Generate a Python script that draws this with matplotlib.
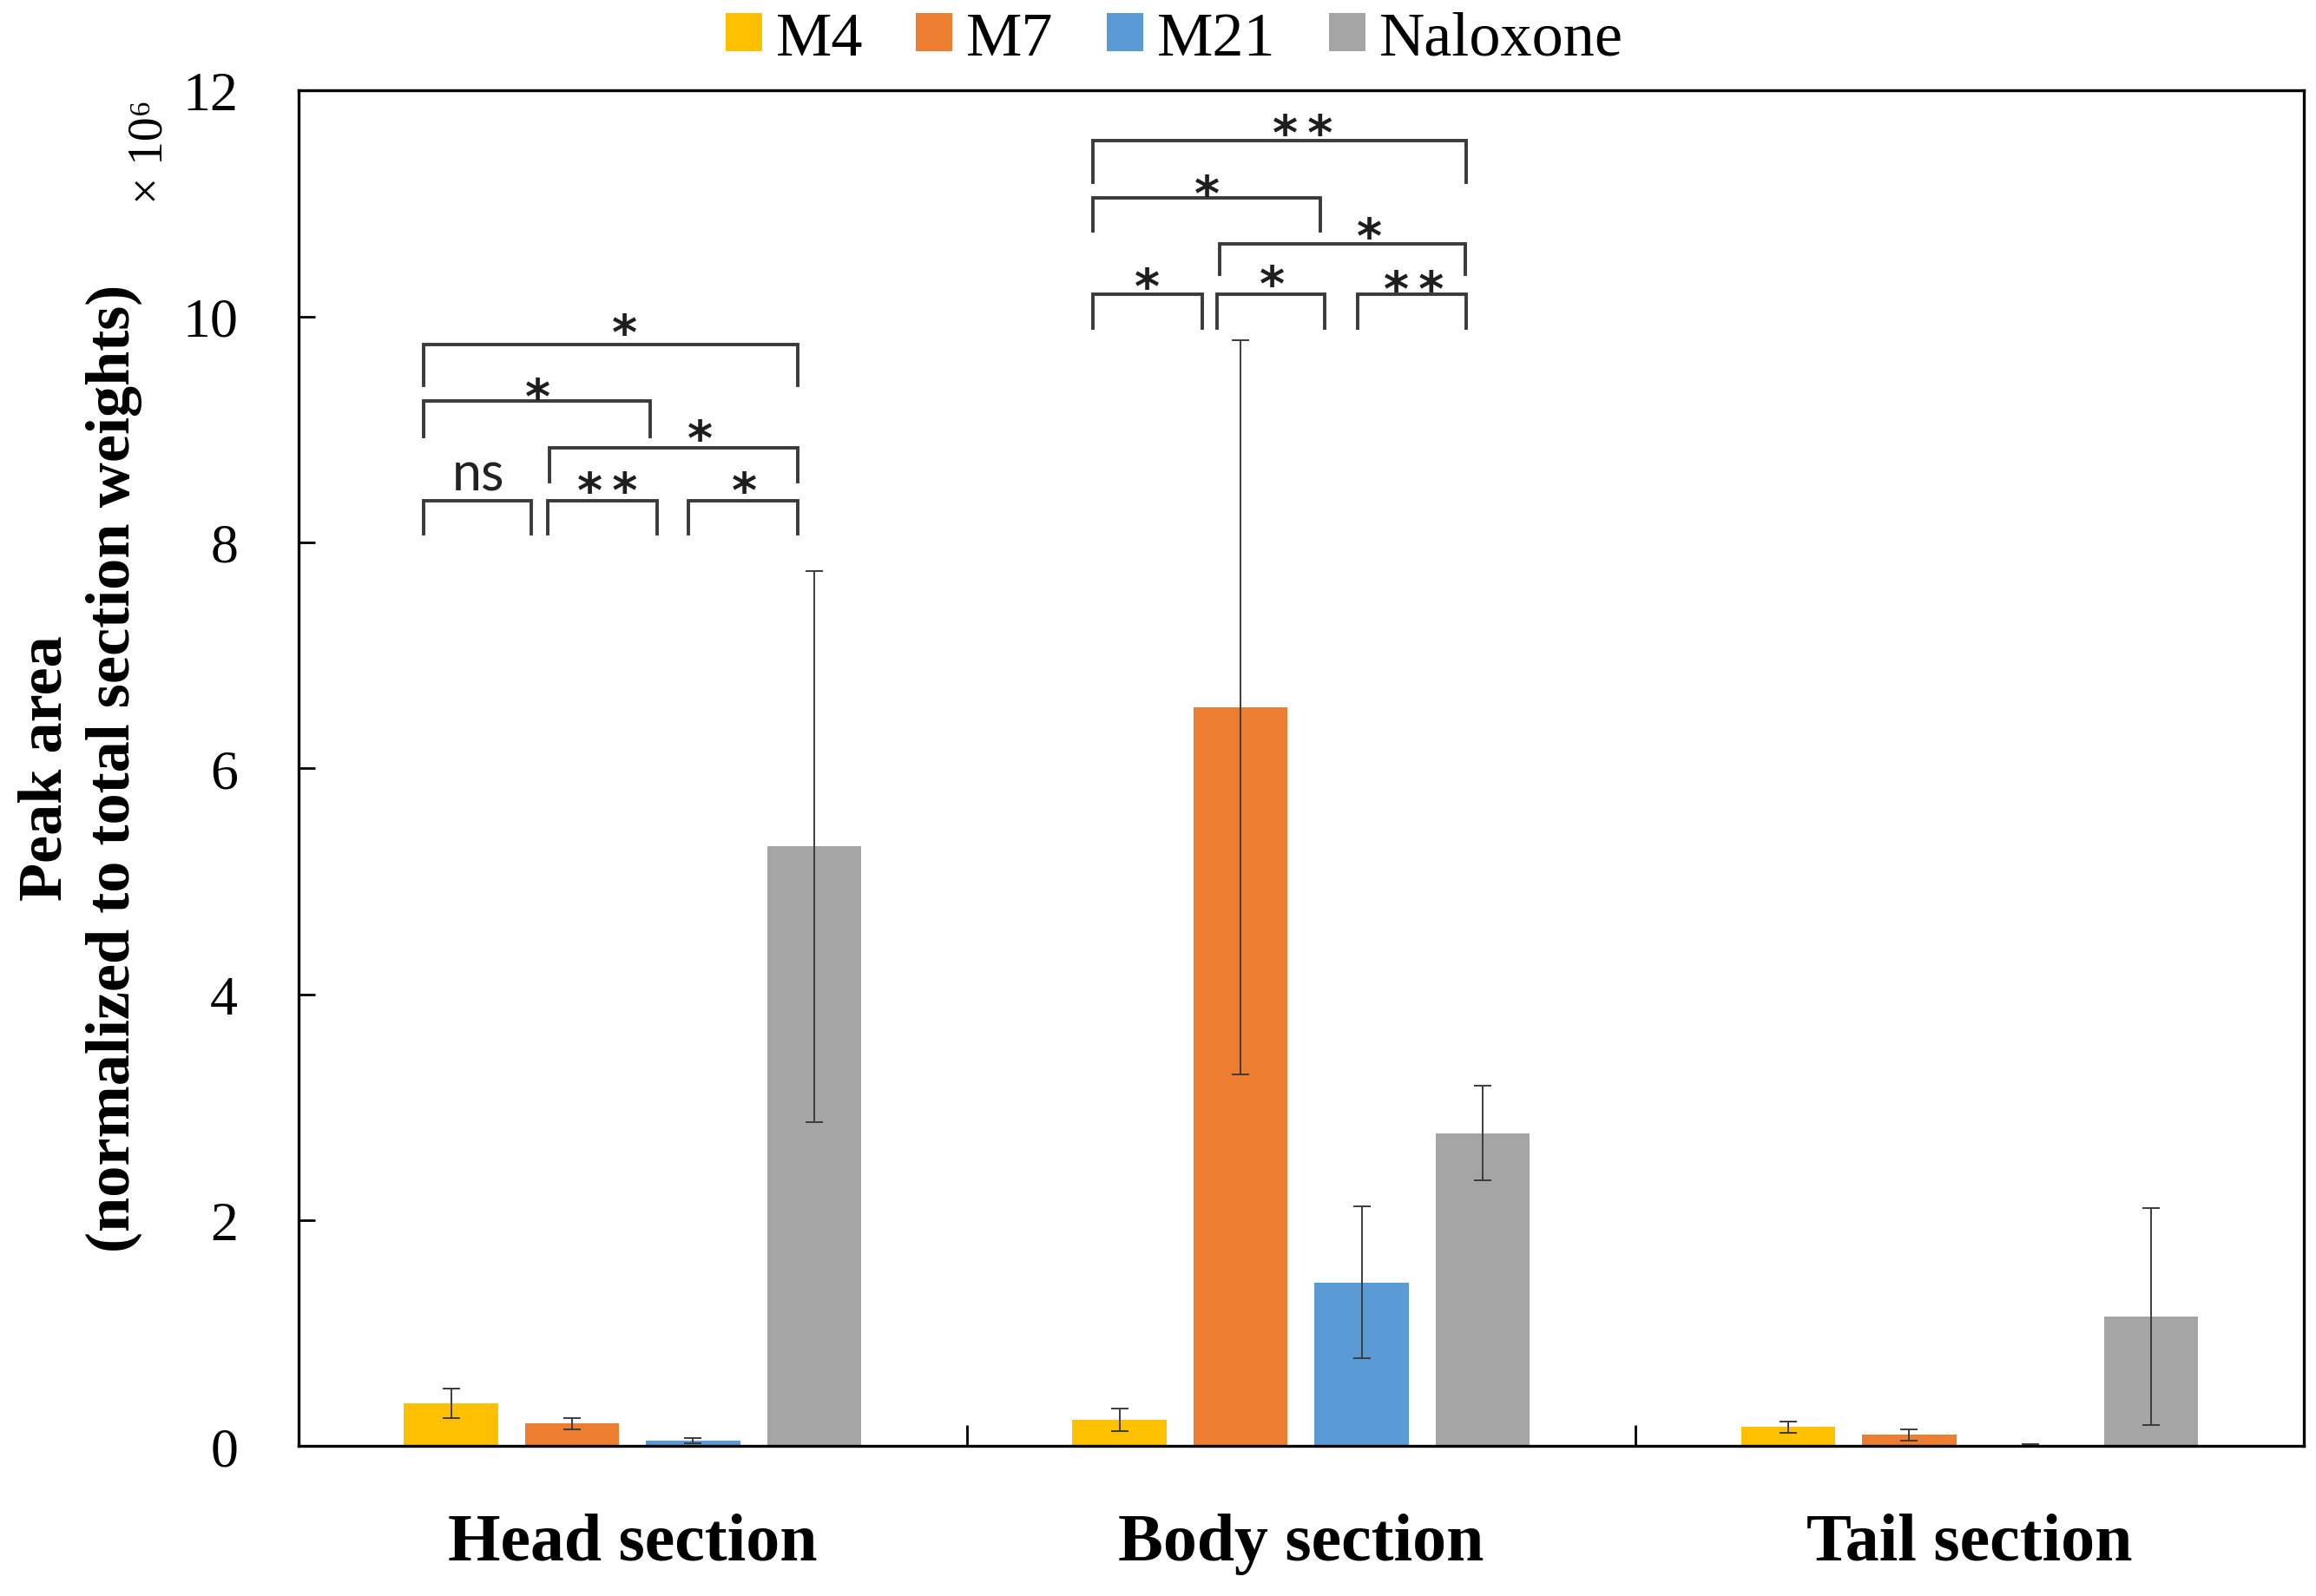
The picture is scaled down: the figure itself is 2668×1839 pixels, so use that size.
import matplotlib
matplotlib.use('Agg')
import matplotlib.pyplot as plt
from matplotlib.patches import Patch
import numpy as np

# ---------------- data ----------------
sections = ['Head section', 'Body section', 'Tail section']
series = ['M4', 'M7', 'M21', 'Naloxone']
colors = ['#FFC000', '#ED7D31', '#5B9BD5', '#A5A5A5']

m4 = [0.38, 0.235, 0.17]
m4_err = [0.13, 0.10, 0.05]
m7 = [0.20, 6.54, 0.10]
m7_err = [0.05, 3.25, 0.05]
m21 = [0.05, 1.45, 0.01]
m21_err = [0.02, 0.67, 0.01]
naloxone = [5.31, 2.77, 1.15]
naloxone_err = [2.44, 0.42, 0.96]

y_ticks = [0, 2, 4, 6, 8, 10, 12]

# significance brackets: (x_left, x_right, y_top, y_leg_bottom)
brackets = [
    (-0.312, -0.151, 8.37, 8.08),
    (-0.127, 0.037, 8.37, 8.08),
    (0.083, 0.247, 8.37, 8.08),
    (-0.124, 0.247, 8.84, 8.54),
    (-0.312, 0.026, 9.25, 8.94),
    (-0.312, 0.247, 9.75, 9.39),
    (0.688, 0.852, 10.20, 9.90),
    (0.874, 1.035, 10.20, 9.90),
    (1.084, 1.247, 10.20, 9.90),
    (0.878, 1.245, 10.64, 10.37),
    (0.688, 1.029, 11.05, 10.76),
    (0.688, 1.247, 11.56, 11.19),
]
# significance labels: (x, y_glyph_centre, text)
sig_labels = [
    (-0.231, 8.59, 'ns'),
    (-0.038, 8.56, '**'),
    (0.167, 8.56, '*'),
    (0.101, 9.02, '*'),
    (-0.142, 9.39, '*'),
    (-0.012, 9.96, '*'),
    (0.770, 10.37, '*'),
    (0.956, 10.39, '*'),
    (1.168, 10.34, '**'),
    (1.102, 10.81, '*'),
    (0.859, 11.19, '*'),
    (1.002, 11.73, '**'),
]

# ---------------- figure ----------------
serif = ['Liberation Serif', 'DejaVu Serif']
sans = ['Lato', 'DejaVu Sans']

fig = plt.figure(figsize=(26.68, 18.4), dpi=100)
ax = fig.add_axes([0.1288, 0.0938, 0.866, 0.849])

values = [m4, m7, m21, naloxone]
errors = [m4_err, m7_err, m21_err, naloxone_err]
x = np.arange(len(sections))
step = 0.181
width = 0.141
for i, (vals, errs, col) in enumerate(zip(values, errors, colors)):
    ax.bar(x + (i - 1.5) * step, vals, width, color=col, yerr=errs,
           error_kw=dict(ecolor='#3c3c3c', elinewidth=1.4, capsize=7, capthick=1.4),
           zorder=2)

ax.set_xlim(-0.5, 2.5)
ax.set_ylim(0, 12)
ax.set_yticks(y_ticks)
ax.set_yticklabels([str(t) for t in y_ticks], fontfamily=serif, fontsize=46)
ax.set_xticks(x)
ax.set_xticklabels(sections, fontfamily=serif, fontsize=56, fontweight='bold')
ax.set_xticks([0.5, 1.5], minor=True)
ax.tick_params(axis='x', which='major', length=0, pad=55)
ax.tick_params(axis='x', which='minor', direction='in', length=17, width=2)
ax.tick_params(axis='y', which='major', direction='in', length=14, width=2, pad=50)
for sp in ax.spines.values():
    sp.set_linewidth(2.4)
    sp.set_color('black')

# brackets
for x1, x2, yt, yb in brackets:
    ax.plot([x1, x1, x2, x2], [yb, yt, yt, yb], color='#3a3a3a', lw=2.8,
            solid_joinstyle='miter', zorder=3)
star_fs = 40
for xs, ys, s in sig_labels:
    if s == 'ns':
        ax.annotate(s, (xs, ys), xytext=(0, -0.26 * 44), textcoords='offset points',
                    ha='center', va='baseline', fontsize=44, fontfamily=sans, color='#222222')
    else:
        ax.annotate('\u2009'.join(s), (xs, ys), xytext=(0, -0.56 * star_fs),
                    textcoords='offset points', ha='center', va='baseline',
                    fontsize=star_fs, fontweight='bold',
                    fontfamily=['DejaVu Sans'], color='#1e1e1e')

# y label
fig.text(0.0345, 0.519, 'Peak area\n(normalized to total section weights)', rotation=90,
         ha='center', va='center', multialignment='center', fontsize=52,
         fontweight='bold', fontfamily=serif, linespacing=1.25)
fig.text(0.0645, 0.905, '× 10⁶', rotation=90, ha='center', va='center',
         fontsize=40, fontfamily=serif)

# legend
handles = [Patch(facecolor=c, edgecolor='none') for c in colors]
fig.legend(handles, series, loc='center', bbox_to_anchor=(0.507, 0.975), ncol=4,
           frameon=False, prop={'family': serif, 'size': 52},
           handlelength=0.58, handleheight=0.58, handletextpad=0.22, columnspacing=0.85,
           borderpad=0, borderaxespad=0)

fig.savefig('out.png', dpi=100)
